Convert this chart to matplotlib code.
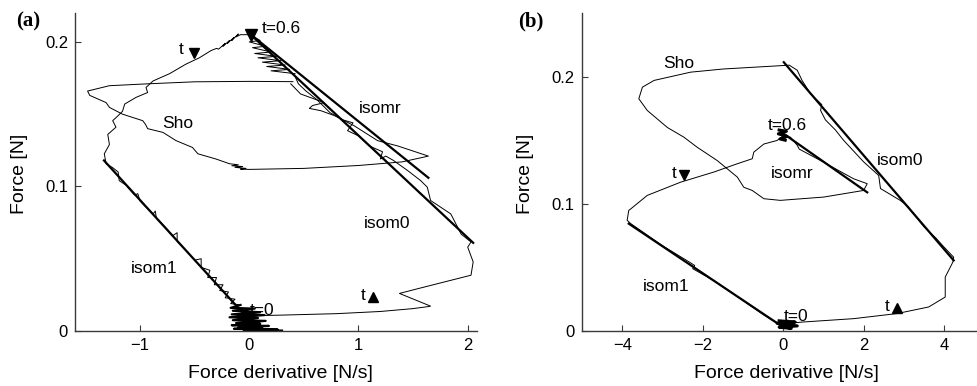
import matplotlib
matplotlib.use("Agg")
import matplotlib.pyplot as plt

plt.rcParams['font.family'] = ['Liberation Sans', 'DejaVu Sans']

# ---------------- Panel (a) data ----------------
a_fit_isom1_x = [-1.33, -0.05]
a_fit_isom1_y = [0.118, 0.0118]
a_fit_isom0_x = [0.0, 2.05]
a_fit_isom0_y = [0.206, 0.061]
a_fit_isomr_x = [0.0, 1.64]
a_fit_isomr_y = [0.206, 0.106]

# baseline from t=0, up along isom0 to the top
a_up_x = [0.0, 0.3, 0.8, 1.2, 1.5, 1.63, 1.66, 1.375, 1.55, 2.03, 2.05, 2.0, 2.03,
          1.94, 1.845, 1.66, 1.63, 1.57, 1.45, 1.32, 1.25, 1.20, 1.22, 1.10, 1.00,
          0.90, 0.95, 0.86, 0.74, 0.62, 0.52, 0.45, 0.42]
a_up_y = [0.0105, 0.011, 0.012, 0.0135, 0.0155, 0.0168, 0.0172, 0.026, 0.0294, 0.0386, 0.0478, 0.058, 0.0616,
          0.067, 0.081, 0.0903, 0.0995, 0.104, 0.111, 0.118, 0.121, 0.119, 0.124, 0.128, 0.135,
          0.1386, 0.144, 0.146, 0.151, 0.160, 0.166, 0.171, 0.176]
# hatching near the top (t=0.6)
a_hatch_x = [0.42, 0.20, 0.37, 0.16, 0.33, 0.12, 0.29, 0.08, 0.25, 0.05, 0.20, 0.03, 0.15, 0.0, 0.10, 0.0]
a_hatch_y = [0.178, 0.180, 0.181, 0.183, 0.184, 0.186, 0.187, 0.189, 0.190, 0.192, 0.193, 0.196, 0.197, 0.200, 0.201, 0.205]
# Sho loop
a_sho_x = [0.40, 0.0, -0.5, -0.93, -1.28, -1.48, -1.46, -1.31, -1.28, -1.16, -0.975, -0.95, -0.93,
           -0.79, -0.67, -0.52, -0.47, -0.305, -0.18, -0.10, -0.16, -0.06, -0.13, -0.03, -0.08, 0.0,
           0.5, 1.0, 1.4, 1.64, 1.50, 1.36, 1.175, 0.96, 0.78, 0.656, 0.55, 0.58, 0.687, 0.47, 0.38]
a_sho_y = [0.1725, 0.1727, 0.1724, 0.171, 0.1697, 0.166, 0.163, 0.158, 0.1547, 0.150, 0.1455, 0.143, 0.140,
           0.1374, 0.1317, 0.127, 0.1226, 0.119, 0.1157, 0.1150, 0.1143, 0.1138, 0.1132, 0.1125, 0.112, 0.1118,
           0.1125, 0.1145, 0.117, 0.121, 0.1245, 0.128, 0.1317, 0.142, 0.149, 0.1524, 0.154, 0.156, 0.158, 0.164, 0.171]
# from the top down-left (t down) and along isom1 to t=0
a_down_x = [0.02, -0.08, -0.12, -0.10, -0.16, -0.14, -0.20, -0.18, -0.24, -0.22, -0.28, -0.30, -0.35,
            -0.457, -0.58, -0.73, -0.88, -0.945, -0.93, -1.037, -1.14, -1.16, -1.20, -1.25, -1.22,
            -1.295, -1.28, -1.327, -1.31,
            -1.25, -1.20, -1.19, -1.13, -1.05, -1.02, -1.00, -0.95, -0.88, -0.86, -0.85, -0.77, -0.70,
            -0.66, -0.66, -0.57, -0.50, -0.44, -0.44, -0.36, -0.38, -0.30, -0.32, -0.24, -0.27, -0.19,
            -0.22, -0.13, -0.17, -0.08]
a_down_y = [0.205, 0.205, 0.2035, 0.2055, 0.201, 0.203, 0.199, 0.201, 0.197, 0.199, 0.195, 0.1955, 0.194,
            0.189, 0.1846, 0.178, 0.173, 0.1685, 0.165, 0.1616, 0.157, 0.152, 0.149, 0.1455, 0.141,
            0.136, 0.129, 0.1226, 0.1157,
            0.113, 0.110, 0.104, 0.101, 0.094, 0.095, 0.090, 0.086, 0.081, 0.083, 0.078, 0.072, 0.066,
            0.068, 0.062, 0.055, 0.049, 0.050, 0.044, 0.042, 0.037, 0.037, 0.032, 0.032, 0.028, 0.027,
            0.023, 0.022, 0.019, 0.018]
# noisy blob at t=0
a_blob_x = [-0.08, -0.17, 0.05, -0.15, 0.10, -0.16, 0.14, -0.18, 0.08, -0.15, 0.15, -0.12, 0.10,
            -0.16, 0.18, -0.10, 0.12, -0.14, 0.26, -0.05, 0.30]
a_blob_y = [0.018, 0.016, 0.0155, 0.014, 0.013, 0.0115, 0.011, 0.0095, 0.009, 0.0075, 0.007, 0.0055, 0.005,
            0.004, 0.0035, 0.0025, 0.002, 0.0015, 0.001, 0.0005, 0.0003]

a_tdown_xy = (-0.51, 0.192)
a_tup_xy = (1.137, 0.0232)
a_t06_xy = (0.02, 0.2045)

a_labels = ["t=0.6", "isomr", "Sho", "isom0", "isom1", "t=0", "t", "t"]
a_label_x = [0.29, 1.20, -0.655, 1.266, -0.868, 0.12, -0.625, 1.04]
a_label_y = [0.209, 0.1536, 0.1437, 0.0743, 0.0432, 0.0145, 0.195, 0.0248]

# ---------------- Panel (b) data ----------------
b_fit_isom0_x = [0.015, 4.24]
b_fit_isom0_y = [0.2113, 0.0555]
b_fit_isomr_x = [0.015, 2.09]
b_fit_isomr_y = [0.155, 0.109]
b_fit_isom1_x = [-3.84, 0.0]
b_fit_isom1_y = [0.0844, 0.003]

b_trace_x = [0.015, 0.51, 1.75, 2.83, 3.62, 4.03, 4.03, 4.22, 4.24,
             4.0, 3.80, 3.50, 3.30, 3.10, 2.91, 2.42, 2.375, 2.0, 1.5, 1.30, 1.05, 0.93, 0.96, 0.68, 0.47, 0.35,
             0.15, 0.0, -1.48, -2.30, -3.21, -3.50, -3.59, -3.38, -2.88, -2.47, -2.14, -1.64, -1.14, -1.06,
             -0.98, -0.77, -0.48, -0.07, 1.01, 2.0, 2.09, 1.75, 0.93, 0.40, 0.35, 0.18, 0.015,
             -0.15, -0.48, -0.73, -0.77, -1.14, -1.72, -2.55, -3.38, -3.79, -3.84, -3.88, -3.79,
             -3.0, -2.40, -2.20, -2.25, -1.72, -1.0, -0.5, -0.3, 0.0]
b_trace_y = [0.0058, 0.0071, 0.0097, 0.0137, 0.0189, 0.0267, 0.0424, 0.0542, 0.058,
             0.066, 0.073, 0.082, 0.090, 0.098, 0.1027, 0.112, 0.1223, 0.133, 0.150, 0.158, 0.166, 0.1734, 0.178, 0.1865, 0.197, 0.205,
             0.209, 0.2087, 0.206, 0.2035, 0.197, 0.1917, 0.1826, 0.1734, 0.160, 0.1524, 0.1445, 0.134, 0.121, 0.117,
             0.113, 0.1105, 0.104, 0.1027, 0.1053, 0.1105, 0.1158, 0.1197, 0.134, 0.143, 0.146, 0.1524, 0.1537,
             0.1498, 0.147, 0.1406, 0.1354, 0.1315, 0.125, 0.117, 0.1066, 0.096, 0.0948, 0.087, 0.0844,
             0.067, 0.0555, 0.0515, 0.049, 0.0395, 0.024, 0.013, 0.009, 0.004]
b_blob0_x = [-0.10, 0.30, -0.15, 0.35, -0.10, 0.20, 0.0]
b_blob0_y = [0.008, 0.007, 0.006, 0.004, 0.003, 0.002, 0.004]
b_blob6_x = [-0.10, 0.08, -0.12, 0.10, -0.08, 0.05]
b_blob6_y = [0.158, 0.157, 0.155, 0.153, 0.151, 0.150]

b_tdown_xy = (-2.47, 0.1223)
b_tup_xy = (2.83, 0.0184)

b_labels = ["Sho", "t=0.6", "isom0", "isomr", "isom1", "t=0", "t", "t"]
b_label_x = [-2.59, 0.10, 2.91, 0.22, -2.92, 0.33, -2.72, 2.58]
b_label_y = [0.210, 0.1616, 0.134, 0.1236, 0.0346, 0.0115, 0.1237, 0.0189]

a_xticks = [-1, 0, 1, 2]
a_yticks = [0, 0.1, 0.2]
b_xticks = [-4, -2, 0, 2, 4]
b_yticks = [0, 0.1, 0.2]

# ---------------- Drawing ----------------
W, H = 977, 386
fig = plt.figure(figsize=(W / 100, H / 100), dpi=100)

axA = fig.add_axes([75 / W, (H - 331) / H, 402 / W, 318 / H])
axB = fig.add_axes([581.7 / W, (H - 331) / H, (977 - 581.7) / W, 318 / H])

thin = dict(color='black', lw=0.7)
thick = dict(color='black', lw=1.6)
spine_col = '#3a3a3a'

def style(ax, xlim, ylim, xt, yt, ytl):
    ax.set_xlim(*xlim)
    ax.set_ylim(*ylim)
    ax.set_xticks(xt)
    ax.set_xticklabels(['\u2212' + str(abs(v)) if v < 0 else str(v) for v in xt])
    ax.set_yticks(yt)
    ax.set_yticklabels(ytl)
    for s in ['top', 'right']:
        ax.spines[s].set_visible(False)
    for s in ['left', 'bottom']:
        ax.spines[s].set_color(spine_col)
        ax.spines[s].set_linewidth(1.0)
    ax.tick_params(direction='in', length=4, width=0.8, color=spine_col,
                   labelsize=12, pad=5)
    ax.set_facecolor('none')

# Panel (a)
axA.plot(a_up_x, a_up_y, **thin)
axA.plot(a_hatch_x, a_hatch_y, **thin)
axA.plot(a_sho_x, a_sho_y, **thin)
axA.plot(a_down_x, a_down_y, **thin)
axA.plot(a_blob_x, a_blob_y, color='black', lw=1.6)
axA.plot(a_fit_isom1_x, a_fit_isom1_y, **thick)
axA.plot(a_fit_isom0_x, a_fit_isom0_y, **thick)
axA.plot(a_fit_isomr_x, a_fit_isomr_y, **thick)
axA.plot(*a_tdown_xy, marker='v', ms=6.5, color='black', ls='none')
axA.plot(*a_tup_xy, marker='^', ms=6.5, color='black', ls='none')
axA.plot(*a_t06_xy, marker='v', ms=8, color='black', ls='none')
for s, x, y in zip(a_labels, a_label_x, a_label_y):
    axA.text(x, y, s, fontsize=12.5, ha='center', va='center')
style(axA, (-1.595, 2.085), (0, 0.22), a_xticks, a_yticks, ['0', '0.1', '0.2'])

# Panel (b)
axB.plot(b_trace_x, b_trace_y, **thin)
axB.plot(b_blob0_x, b_blob0_y, color='black', lw=2.2)
axB.plot(b_blob6_x, b_blob6_y, color='black', lw=2.2)
axB.plot(b_fit_isom0_x, b_fit_isom0_y, **thick)
axB.plot(b_fit_isomr_x, b_fit_isomr_y, **thick)
axB.plot(b_fit_isom1_x, b_fit_isom1_y, **thick)
axB.plot(*b_tdown_xy, marker='v', ms=6.5, color='black', ls='none')
axB.plot(*b_tup_xy, marker='^', ms=6.5, color='black', ls='none')
for s, x, y in zip(b_labels, b_label_x, b_label_y):
    axB.text(x, y, s, fontsize=12.5, ha='center', va='center')
style(axB, (-5.01, 4.82), (0, 0.25), b_xticks, b_yticks, ['0', '0.1', '0.2'])

# Axis labels and panel letters
for xc in [19, 526]:
    fig.text(xc / W, 1 - 174 / H, 'Force [N]', rotation=90, ha='center', va='center', fontsize=14)
for xc in [280, 786]:
    fig.text(xc / W, 1 - 374 / H, 'Force derivative [N/s]', ha='center', va='center', fontsize=14)
fig.text(28 / W, 1 - 21 / H, '(a)', family=['Liberation Serif', 'DejaVu Serif'],
         fontweight='bold', fontsize=15, ha='center', va='center')
fig.text(531 / W, 1 - 21 / H, '(b)', family=['Liberation Serif', 'DejaVu Serif'],
         fontweight='bold', fontsize=15, ha='center', va='center')

fig.savefig('out.png', dpi=100)
